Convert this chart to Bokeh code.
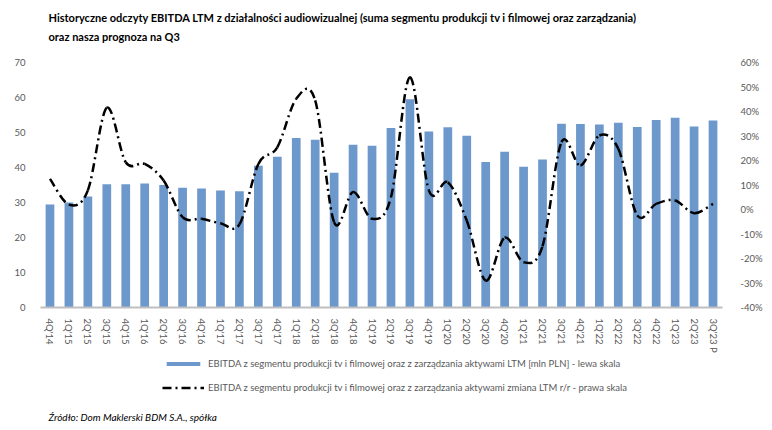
from bokeh.plotting import figure
from bokeh.layouts import column
from bokeh.models import (Range1d, LinearAxis, FixedTicker, PrintfTickFormatter,
                          Label, Legend, LegendItem, ColumnDataSource)
from bokeh.embed import file_html
from bokeh.resources import INLINE

categories = ["4Q'14", "1Q'15", "2Q'15", "3Q'15", "4Q'15", "1Q'16", "2Q'16", "3Q'16", "4Q'16",
              "1Q'17", "2Q'17", "3Q'17", "4Q'17", "1Q'18", "2Q'18", "3Q'18", "4Q'18",
              "1Q'19", "2Q'19", "3Q'19", "4Q'19", "1Q'20", "2Q'20", "3Q'20", "4Q'20",
              "1Q'21", "2Q'21", "3Q'21", "4Q'21", "1Q'22", "2Q'22", "3Q'22", "4Q'22",
              "1Q'23", "2Q'23", "3Q'23 P"]

ebitda_ltm = [29.4, 30.0, 31.7, 35.2, 35.2, 35.4, 35.0, 34.2, 34.0,
              33.4, 33.2, 40.5, 43.1, 48.4, 47.9, 38.5, 46.5,
              46.2, 51.3, 59.5, 50.3, 51.5, 49.1, 41.6, 44.5,
              40.2, 42.3, 52.5, 52.4, 52.3, 52.8, 51.6, 53.6,
              54.2, 51.7, 53.4]

yoy_change_pct = [12.5, 2.0, 7.8, 41.5, 19.3, 18.6, 11.8, -3.1, -3.8,
                  -5.6, -6.1, 18.6, 25.4, 45.2, 44.5, -5.2, 7.1,
                  -3.8, 5.0, 54.0, 7.8, 11.1, -4.5, -29.0, -11.5,
                  -21.5, -15.0, 27.5, 18.0, 30.2, 24.8, -2.4, 2.3,
                  3.7, -1.5, 2.3]

left_ticks = [0, 10, 20, 30, 40, 50, 60, 70]
right_ticks = [-40, -30, -20, -10, 0, 10, 20, 30, 40, 50, 60]

TITLE_1 = "Historyczne odczyty EBITDA LTM z działalności audiowizualnej (suma segmentu produkcji tv i filmowej oraz zarządzania)"
TITLE_2 = "oraz nasza prognoza na Q3"
LEGEND_BAR = "EBITDA z segmentu produkcji tv i filmowej oraz z zarządzania aktywami LTM [mln PLN] - lewa skala"
LEGEND_LINE = "EBITDA z segmentu produkcji tv i filmowej oraz z zarządzania aktywami zmiana LTM r/r - prawa skala"
SOURCE = "Źródło: Dom Maklerski BDM S.A., spółka"

FONT = "Lato"
GRAY = "#595959"
BAR = "#6C98CC"
DASH = "9 4 2 4"
W = 772
HEADER_H, MAIN_H, FOOTER_H = 50, 305, 75

n = len(categories)
xs = list(range(n))


def blank(h):
    f = figure(width=W, height=h, output_backend="svg", toolbar_location=None,
               x_range=Range1d(0, 1), y_range=Range1d(0, 1),
               x_axis_type=None, y_axis_type=None, min_border=0)
    f.outline_line_color = None
    f.grid.visible = False
    return f


# ---- header with the two title lines
header = blank(HEADER_H)
for txt, yy in ((TITLE_1, 33), (TITLE_2, 14)):
    header.add_layout(Label(x=8, y=yy, x_units="screen", y_units="screen", text=txt,
                            text_baseline="middle", text_font=FONT, text_font_style="bold",
                            text_font_size="11px", text_color="black"))

# ---- main chart
p = figure(width=W, height=MAIN_H, output_backend="svg", toolbar_location=None,
           x_range=Range1d(-0.5, n - 0.5), y_range=Range1d(left_ticks[0], left_ticks[-1]),
           min_border_left=40, min_border_right=50, min_border_top=12, min_border_bottom=48)
p.outline_line_color = None
p.grid.visible = False
p.extra_y_ranges = {"pct": Range1d(right_ticks[0], right_ticks[-1])}

p.vbar(x=xs, top=ebitda_ltm, width=0.46, fill_color=BAR, line_color=None)

# smoothed line through the data points (cubic Bezier segments)
x0s, y0s, x1s, y1s, cx0s, cy0s, cx1s, cy1s = [], [], [], [], [], [], [], []
for i in range(n - 1):
    a = max(i - 1, 0)
    d = min(i + 2, n - 1)
    xa, ya = xs[a], yoy_change_pct[a]
    xb, yb = xs[i], yoy_change_pct[i]
    xc, yc = xs[i + 1], yoy_change_pct[i + 1]
    xd, yd = xs[d], yoy_change_pct[d]
    x0s.append(xb); y0s.append(yb)
    x1s.append(xc); y1s.append(yc)
    cx0s.append(xb + (xc - xa) / 6.0); cy0s.append(yb + (yc - ya) / 6.0)
    cx1s.append(xc - (xd - xb) / 6.0); cy1s.append(yc - (yd - yb) / 6.0)

bsrc = ColumnDataSource(dict(x0=x0s, y0=y0s, x1=x1s, y1=y1s, cx0=cx0s, cy0=cy0s, cx1=cx1s, cy1=cy1s))
p.bezier(x0="x0", y0="y0", x1="x1", y1="y1", cx0="cx0", cy0="cy0", cx1="cx1", cy1="cy1",
         source=bsrc, y_range_name="pct", line_color="black", line_width=2.5, line_dash=DASH)

xa_ = p.xaxis[0]
xa_.ticker = FixedTicker(ticks=xs)
xa_.major_label_overrides = {i: c for i, c in enumerate(categories)}
xa_.major_label_orientation = "vertical"
xa_.axis_line_color = "#BFBFBF"
xa_.axis_line_width = 2
xa_.major_tick_line_color = None
xa_.minor_tick_line_color = None
xa_.major_label_standoff = 5
xa_.major_label_text_font = FONT
xa_.major_label_text_font_size = "9.5px"
xa_.major_label_text_color = GRAY

ya_ = p.yaxis[0]
ya_.ticker = FixedTicker(ticks=left_ticks)
ya_.axis_line_color = None
ya_.major_tick_line_color = None
ya_.minor_tick_line_color = None
ya_.major_label_standoff = 9
ya_.major_label_text_font = FONT
ya_.major_label_text_font_size = "9.5px"
ya_.major_label_text_color = GRAY

ra = LinearAxis(y_range_name="pct", ticker=FixedTicker(ticks=right_ticks),
                formatter=PrintfTickFormatter(format="%d%%"))
ra.axis_line_color = None
ra.major_tick_line_color = None
ra.minor_tick_line_color = None
ra.major_label_standoff = 12
ra.major_label_text_font = FONT
ra.major_label_text_font_size = "9.5px"
ra.major_label_text_color = GRAY
p.add_layout(ra, "right")

# ---- footer with legend and source (legend samples use hidden renderers of the same series)
footer = blank(FOOTER_H)
leg_bar = footer.vbar(x=xs, top=ebitda_ltm, width=0.46, fill_color=BAR, line_color=None, visible=False)
leg_line = footer.line(x=xs, y=yoy_change_pct, line_color="black", line_width=2.5,
                       line_dash=DASH, visible=False)
legend = Legend(items=[LegendItem(label=LEGEND_BAR, renderers=[leg_bar]),
                       LegendItem(label=LEGEND_LINE, renderers=[leg_line])],
                location=(122, 37), orientation="vertical",
                glyph_width=42, glyph_height=5, label_height=12, label_standoff=4, spacing=12,
                padding=0, margin=0, border_line_color=None, background_fill_alpha=0,
                inactive_fill_alpha=0,
                label_text_font=FONT, label_text_font_size="9.5px", label_text_color=GRAY)
footer.add_layout(legend)
footer.add_layout(Label(x=8, y=14, x_units="screen", y_units="screen", text=SOURCE,
                        text_baseline="middle", text_font=FONT, text_font_style="italic",
                        text_font_size="10px", text_color="black"))

layout = column(header, p, footer, spacing=0)
open("out.html", "w").write(file_html(layout, INLINE))
